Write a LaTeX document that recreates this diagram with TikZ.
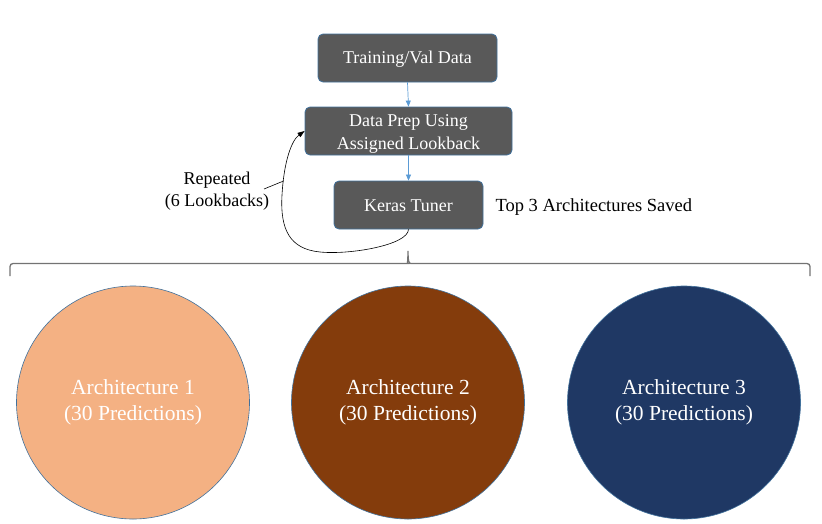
\documentclass[tikz,border=0pt]{standalone}
\usepackage{fontspec}
\setmainfont{Liberation Serif}
\usetikzlibrary{arrows.meta}
\definecolor{boxfill}{HTML}{595959}
\definecolor{boxline}{HTML}{41719C}
\definecolor{arrblue}{HTML}{5B9BD5}
\definecolor{archA}{HTML}{F4B183}
\definecolor{archB}{HTML}{843C0C}
\definecolor{archC}{HTML}{1F3864}
\tikzset{
  stepbox/.style={draw=boxline, fill=boxfill, rounded corners=5pt, text=white,
    font=\fontsize{18}{22.5}\selectfont, align=center, inner sep=0pt, line width=0.8pt},
  steptext/.style={text=white, font=\fontsize{18}{22.5}\selectfont, align=center, inner sep=0pt},
  arch/.style={circle, draw=boxline, line width=0.6pt, minimum size=233pt, inner sep=0pt,
    text=white, align=center, font=\fontsize{21.5}{26}\selectfont},
  flow/.style={draw=arrblue, line width=0.7pt, -{Triangle[length=6pt,width=5pt]}},
}
\begin{document}
\begin{tikzpicture}[x=1pt,y=-1pt]
\useasboundingbox (0,0) rectangle (822,523);
\node[stepbox, minimum width=179pt, minimum height=48pt] (data) at (407.5,58) {\raisebox{-1pt}[\height][\depth]{Training/Val Data}};
\node[stepbox, minimum width=207pt, minimum height=48pt,
  label={[steptext, yshift=-3pt]center:{Data Prep Using\\[1pt]Assigned Lookback}}] (prep) at (408.5,131) {};
\node[stepbox, minimum width=149pt, minimum height=48pt] (tuner) at (408.5,205) {\raisebox{-1pt}[\height][\depth]{Keras Tuner}};
\draw[flow] (data.south) -- (prep.north);
\draw[flow] (prep.south) -- (tuner.north);
\draw[line width=0.6pt, -{Triangle[length=7pt,width=5pt]}] (tuner.south) .. controls (408,245) and (350,255) .. (320,252)
  .. controls (290,249) and (280,230) .. (282,195)
  .. controls (284,160) and (292,140) .. (prep.west);
\node[font=\fontsize{18}{22}\selectfont, align=center] (rep) at (217,191) {Repeated\\(6 Lookbacks)};
\coordinate (repend) at (283.5,181);
\draw[line width=0.6pt] (264,189) -- (repend);
\node[font=\fontsize{18.5}{22}\selectfont, anchor=west] (top) at (492,207) {Top 3 Architectures Saved};
\coordinate (bl) at (10,276);
\coordinate (br) at (810,276);
\coordinate (bm) at (408,251);
\draw[draw=black!55, line width=1.3pt, rounded corners=3pt] (bl) -- (10,263.5) -- (405,263.5)
  [sharp corners] .. controls (407,263.5) and (408,262) .. (bm)
  .. controls (408,262) and (409,263.5) .. (411,263.5) [rounded corners=3pt] -- (810,263.5) -- (br);
\node[arch, fill=archA] (a1) at (133,402.5) {Architecture 1\\(30 Predictions)};
\node[arch, fill=archB] (a2) at (408,402.5) {Architecture 2\\(30 Predictions)};
\node[arch, fill=archC] (a3) at (684,402.5) {Architecture 3\\(30 Predictions)};
\end{tikzpicture}
\end{document}
